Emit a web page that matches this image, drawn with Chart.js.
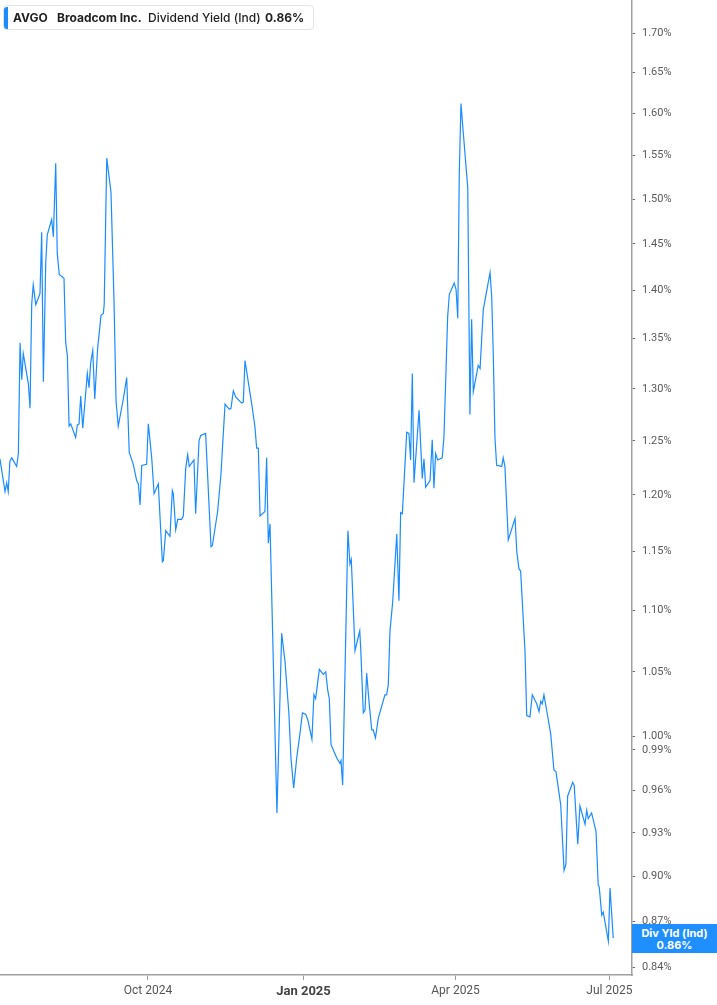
<!DOCTYPE html>
<html><head><meta charset="utf-8">
<script src="https://cdn.jsdelivr.net/npm/chart.js@4.4.1/dist/chart.umd.min.js"></script>
<style>
html,body{margin:0;padding:0;background:#fff;}
#wrap{position:relative;width:717px;height:1005px;overflow:hidden;}
#c{position:absolute;left:0;top:0;}
#hdr{position:absolute;left:3px;top:5px;width:311px;height:25px;border:1px solid #e4e4e4;border-radius:4px;background:#fff;box-sizing:border-box;font-family:Inter,'Noto Sans',sans-serif;font-size:12px;color:#1f1f1f;}
#hdr .bar{position:absolute;left:0;top:1px;width:4px;height:22px;background:#1a8cff;border-radius:3px 0 0 3px;}
#hdr span{position:absolute;top:4px;line-height:15px;white-space:nowrap;}
#vbox{position:absolute;left:632px;width:85px;height:29px;background:#1f8fff;color:#fff;font-family:Inter,'Noto Sans',sans-serif;font-weight:700;font-size:11px;line-height:12px;text-align:center;box-sizing:border-box;padding-top:3px;}
</style></head>
<body>
<div id="wrap">
<canvas id="c" width="717" height="1005"></canvas>
<div id="hdr"><div class="bar"></div>
<span style="left:9px;font-weight:700">AVGO</span>
<span style="left:53px;font-weight:700">Broadcom Inc.</span>
<span style="left:144px;font-weight:500">Dividend Yield (Ind)</span>
<span style="left:261px;font-weight:700">0.86%</span>
</div>
<div id="vbox">Div Yld (Ind)<br>0.86%</div>
</div>
<script>
// days since 2024-07-01
const dayOffsets = [4.4,7.4,8.4,9.3,10.3,11.4,14.3,15.3,16.3,17.3,18.2,21.2,22.2,23.2,24.1,25.6,28.1,29.1,30.1,31.5,32.4,35.0,36.0,37.4,38.3,39.5,42.3,43.3,44.3,45.3,46.3,49.2,50.2,51.2,52.2,53.4,56.1,57.1,58.1,59.3,60.5,62.2,64.2,65.6,66.1,67.6,70.1,71.9,73.1,74.4,77.4,79.4,80.9,83.3,85.3,86.3,87.3,88.3,91.2,92.2,94.2,95.6,98.1,100.5,101.1,102.5,105.0,106.4,107.0,108.4,109.6,111.9,112.9,114.3,115.5,116.4,119.2,120.2,122.2,123.2,126.1,129.3,130.1,133.2,135.2,136.2,137.6,140.1,141.1,142.5,143.9,147.4,148.4,149.4,151.4,153.4,155.3,156.3,157.3,158.3,161.2,162.2,163.2,164.2,168.3,171.1,173.1,175.4,176.6,178.2,180.0,181.9,183.4,185.3,186.5,189.0,190.2,191.2,193.4,195.7,197.2,198.3,199.3,200.3,203.7,205.6,206.2,207.2,210.3,211.5,212.3,214.5,217.3,217.9,219.4,220.4,221.4,222.9,224.4,225.3,226.6,228.3,232.2,233.2,234.2,235.2,236.8,239.2,240.5,241.5,242.5,245.1,246.4,247.4,248.4,249.4,252.4,254.3,255.3,256.3,258.9,260.2,261.2,262.2,263.4,266.1,267.1,268.2,269.3,270.3,273.2,274.3,275.3,276.2,277.2,278.6,281.2,282.5,283.5,284.5,287.4,288.5,290.4,294.4,295.4,296.3,297.3,298.3,301.3,302.2,303.2,305.2,309.2,310.2,311.5,312.5,315.1,316.1,318.0,319.4,322.0,323.4,324.4,325.3,326.3,328.3,330.3,332.2,333.4,336.2,338.2,339.3,340.3,343.3,344.2,346.3,347.6,350.6,351.6,352.5,354.5,357.1,358.4,359.0,360.5,361.4,364.4,365.4,367.3];
// dividend yield, percent
const yieldPct = [1.233,1.203,1.211,1.203,1.231,1.234,1.226,1.238,1.346,1.309,1.335,1.305,1.281,1.386,1.406,1.385,1.397,1.463,1.307,1.430,1.460,1.477,1.458,1.541,1.440,1.417,1.413,1.346,1.333,1.264,1.266,1.253,1.265,1.266,1.293,1.262,1.315,1.301,1.326,1.338,1.290,1.340,1.374,1.376,1.386,1.547,1.508,1.389,1.288,1.264,1.290,1.311,1.239,1.228,1.213,1.210,1.191,1.227,1.228,1.266,1.234,1.201,1.210,1.141,1.142,1.168,1.163,1.204,1.201,1.169,1.178,1.178,1.181,1.224,1.237,1.226,1.232,1.183,1.250,1.255,1.257,1.154,1.155,1.185,1.219,1.247,1.285,1.280,1.281,1.298,1.292,1.286,1.287,1.328,1.306,1.285,1.263,1.243,1.243,1.181,1.185,1.234,1.157,1.174,0.944,1.081,1.058,1.017,0.984,0.962,0.984,1.002,1.018,1.017,1.013,0.998,1.032,1.029,1.052,1.048,1.050,1.036,1.029,0.994,0.984,0.980,0.982,0.964,1.168,1.139,1.143,1.067,1.083,1.068,1.018,1.020,1.049,1.025,1.005,1.005,0.999,1.014,1.032,1.032,1.040,1.083,1.107,1.165,1.108,1.184,1.183,1.258,1.257,1.232,1.315,1.211,1.279,1.215,1.233,1.207,1.213,1.251,1.206,1.238,1.232,1.234,1.253,1.310,1.372,1.396,1.408,1.401,1.371,1.529,1.612,1.576,1.513,1.275,1.370,1.297,1.323,1.320,1.380,1.419,1.393,1.335,1.253,1.227,1.226,1.234,1.226,1.160,1.179,1.150,1.135,1.133,1.066,1.016,1.015,1.032,1.025,1.019,1.027,1.025,1.032,1.017,1.002,0.975,0.974,0.950,0.904,0.908,0.956,0.966,0.964,0.922,0.949,0.936,0.946,0.940,0.944,0.931,0.894,0.893,0.874,0.876,0.857,0.892,0.859];

const xTickDays = [92, 184, 274, 365];
const xTickLabels = ['Oct 2024', 'Jan 2025', 'Apr 2025', 'Jul 2025'];
const yTickValues = [1.70,1.65,1.60,1.55,1.50,1.45,1.40,1.35,1.30,1.25,1.20,1.15,1.10,1.05,1.00,0.99,0.96,0.93,0.90,0.87,0.84];
const lastValue = 0.86;

const points = dayOffsets.map((d, i) => ({x: d, y: yieldPct[i]}));

const boxPlugin = {
  id: 'vbox',
  afterDraw(chart) {
    const y = chart.scales.y.getPixelForValue(lastValue);
    document.getElementById('vbox').style.top = (y - 13) + 'px';
  }
};

new Chart(document.getElementById('c'), {
  type: 'line',
  data: { datasets: [{
    data: points,
    borderColor: '#1a8cff',
    borderWidth: 1.2,
    pointRadius: 0,
    tension: 0,
    fill: false
  }]},
  options: {
    responsive: false,
    animation: false,
    events: [],
    layout: { padding: 0 },
    plugins: { legend: { display: false }, tooltip: { enabled: false } },
    scales: {
      x: {
        type: 'linear',
        position: 'bottom',
        min: 4.43,
        max: 378.4,
        afterBuildTicks: s => { s.ticks = xTickDays.map(v => ({value: v})); },
        afterFit: s => { s.height = 30; s.paddingLeft = 0; s.paddingRight = 0; },
        grid: { drawOnChartArea: false, drawTicks: true, tickLength: 5, color: '#9a9a9a', lineWidth: 1 },
        border: { display: true, color: '#a0a0a0', width: 1.5 },
        ticks: {
          autoSkip: false,
          maxRotation: 0,
          padding: 4,
          callback: (v, i) => xTickLabels[i],
          color: ctx => ctx.index === 1 ? '#444' : '#555',
          font: ctx => ctx.index === 1
            ? { family: 'Roboto, sans-serif', size: 13, weight: 'bold' }
            : { family: 'Roboto, sans-serif', size: 12 }
        }
      },
      y: {
        type: 'logarithmic',
        position: 'right',
        min: 0.8354,
        max: 1.743,
        afterBuildTicks: s => { s.ticks = yTickValues.map(v => ({value: v})); },
        afterFit: s => { s.width = 85; s.paddingTop = 0; s.paddingBottom = 0; },
        grid: { drawOnChartArea: false, drawTicks: true, tickLength: 3, color: '#666', lineWidth: 1 },
        border: { display: true, color: '#a0a0a0', width: 1.5 },
        ticks: {
          autoSkip: false,
          padding: 7,
          callback: v => Number(v).toFixed(2) + '%',
          color: '#5a5a5a',
          font: { family: 'Roboto, sans-serif', size: 11 }
        }
      }
    }
  },
  plugins: [boxPlugin]
});
</script>
</body></html>
